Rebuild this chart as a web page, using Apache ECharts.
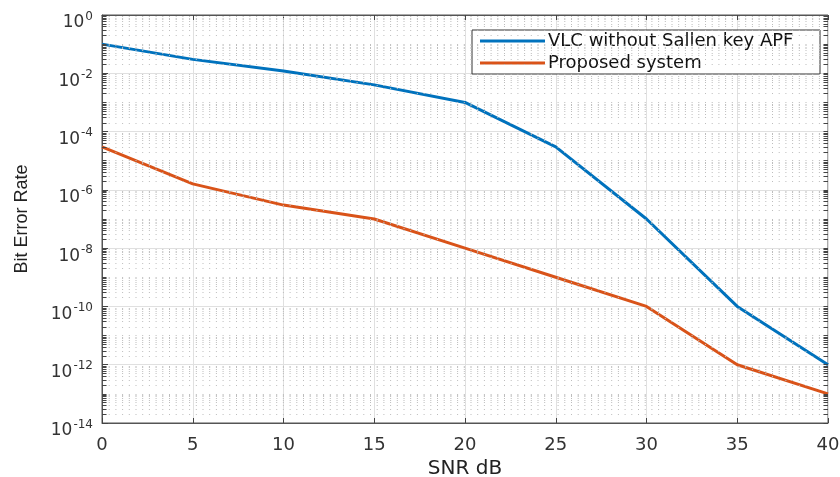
<!DOCTYPE html>
<html>
<head>
<meta charset="utf-8">
<script src="https://cdn.jsdelivr.net/npm/echarts@6/dist/echarts.min.js"></script>
<style>
html,body{margin:0;padding:0;background:#fff;}
#c{width:840px;height:477px;}
</style>
</head>
<body>
<div id="c"></div>
<script>
var snr = [0, 5, 10, 15, 20, 25, 30, 35, 40];
var berVlc = [1e-1, 3e-2, 1.2e-2, 4e-3, 1e-3, 3e-5, 1e-7, 1e-10, 1e-12];
var berProposed = [3e-5, 1.6e-6, 3e-7, 1e-7, 1e-8, 1e-9, 1e-10, 1e-12, 1e-13];
var seriesNames = ['VLC without Sallen key APF', 'Proposed system'];
var xTicks = [0, 5, 10, 15, 20, 25, 30, 35, 40];
var yExponents = [-14, -12, -10, -8, -6, -4, -2, 0];
var minorFactors = [1, 2, 3, 4, 5, 6, 7, 8, 9];

var FONT = '"DejaVu Sans", "Liberation Sans", Arial, sans-serif';
var FONT2 = '"Liberation Sans", Arial, Helvetica, sans-serif';
var chart = echarts.init(document.getElementById('c'), null, {renderer: 'canvas'});

function pairs(xs, ys) { return xs.map(function (x, i) { return [x, ys[i]]; }); }

// log-axis minor grid positions (f x 10^k), excluding the labelled decades
var minorGrid = [], minorTicks = [];
for (var k = -14; k < 0; k++) {
  minorFactors.forEach(function (f) {
    var v = f * Math.pow(10, k);
    var isMajor = (f === 1 && yExponents.indexOf(k) >= 0);
    if (!isMajor) minorGrid.push([{coord: [0, v]}, {coord: [40, v]}]);
    minorTicks.push([{coord: [0, v]}, {coord: [0.25, v]}]);
    minorTicks.push([{coord: [39.75, v]}, {coord: [40, v]}]);
  });
}

chart.setOption({
  animation: false,
  backgroundColor: '#fff',
  grid: {left: 102, right: 12, top: 15, bottom: 54, outerBoundsMode: 'none', containLabel: false,
         show: true, borderColor: '#555', borderWidth: 1, backgroundColor: 'transparent'},
  legend: {
    orient: 'vertical', left: 472, top: 30,
    backgroundColor: '#fff', borderColor: '#333', borderWidth: 1,
    padding: [2, 8, 2, 8], itemGap: 4,
    icon: 'rect', itemWidth: 65, itemHeight: 3,
    textStyle: {fontFamily: FONT, fontSize: 18, lineHeight: 17, color: '#111', width: 264, padding: [0, 0, 0, -2]},
    data: seriesNames
  },
  xAxis: [{
    type: 'value', min: 0, max: 40, interval: 5,
    name: 'SNR dB', nameLocation: 'middle', nameGap: 35,
    nameTextStyle: {fontFamily: FONT, fontSize: 20, color: '#222'},
    axisLine: {lineStyle: {color: '#555'}},
    axisTick: {inside: true, length: 5, lineStyle: {color: '#444'}},
    axisLabel: {fontFamily: FONT, fontSize: 18, color: '#333', margin: 13,
      formatter: function (v) { return xTicks.indexOf(v) >= 0 ? String(v) : ''; }},
    splitLine: {show: true, lineStyle: {color: '#e0e0e0', width: 1}}
  }, {
    type: 'value', min: 0, max: 40, interval: 5, position: 'top',
    axisLine: {show: true, lineStyle: {color: '#555'}},
    axisTick: {show: true, inside: true, length: 5, lineStyle: {color: '#444'}},
    axisLabel: {show: false}, splitLine: {show: false}
  }],
  yAxis: {
    type: 'log', logBase: 10, min: 1e-14, max: 1, interval: 2,
    name: 'Bit Error Rate', nameLocation: 'middle', nameGap: 71, nameRotate: 90,
    nameTextStyle: {fontFamily: FONT2, fontSize: 18, color: '#222'},
    axisLine: {lineStyle: {color: '#555'}},
    axisTick: {inside: true, length: 6, lineStyle: {color: '#444'}},
    axisLabel: {
      margin: 9, padding: [12, 0, 0, 0],
      formatter: function (v) {
        var e = Math.round(Math.log10(v));
        return '{b|10}{s|' + e + '}';
      },
      rich: {
        b: {fontFamily: FONT, fontSize: 17, color: '#333', padding: [4, 0, 0, 0]},
        s: {fontFamily: FONT, fontSize: 12, color: '#333', verticalAlign: 'top', padding: [0, 0, 4, 1]}
      }
    },
    splitLine: {show: true, lineStyle: {color: '#e0e0e0', width: 1}}
  },
  series: [
    {name: 'grid', type: 'line', data: [], silent: true, z: 1,
     markLine: {silent: true, symbol: ['none', 'none'], label: {show: false}, animation: false, precision: 20,
       lineStyle: {color: '#bdbdbd', width: 1, type: [1, 5.7]}, emphasis: {disabled: true},
       data: minorGrid}},
    {name: 'ticks', type: 'line', data: [], silent: true, z: 1,
     markLine: {silent: true, symbol: ['none', 'none'], label: {show: false}, animation: false, precision: 20,
       lineStyle: {color: '#444', width: 1, type: 'solid'}, emphasis: {disabled: true},
       data: minorTicks}},
    {name: seriesNames[0], type: 'line', data: pairs(snr, berVlc), showSymbol: false, symbol: 'none',
     lineStyle: {color: '#0072BD', width: 3}, itemStyle: {color: '#0072BD'}, z: 3},
    {name: seriesNames[1], type: 'line', data: pairs(snr, berProposed), showSymbol: false, symbol: 'none',
     lineStyle: {color: '#D95319', width: 3}, itemStyle: {color: '#D95319'}, z: 3}
  ]
});
</script>
</body>
</html>
